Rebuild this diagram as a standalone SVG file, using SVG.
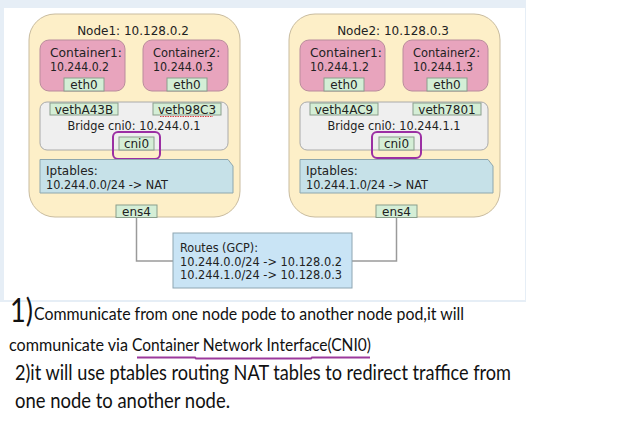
<svg xmlns="http://www.w3.org/2000/svg" width="640" height="434" viewBox="0 0 640 434">
<style>
.d{font-family:"DejaVu Sans",sans-serif;font-size:12px;fill:#222}
.node{fill:#fdefc8;stroke:#c9bc9f;stroke-width:1}
.ctr{fill:#e8a4bd;stroke:#b98c9c;stroke-width:1}
.if{fill:#d4eed6;stroke:#8a9e8c;stroke-width:1}
.br{fill:#efefef;stroke:#aaaaaa;stroke-width:1}
.ipt{fill:#c6e1e8;stroke:#8ea7ae;stroke-width:1}
.rt{fill:#c9e4f5;stroke:#8ea6b2;stroke-width:1}
.hl{fill:none;stroke:#9b2fa3;stroke-width:2}
.ln{fill:none;stroke:#9a9a9a;stroke-width:1.5}
.b{font-family:Lato,"Liberation Sans",sans-serif;fill:#111}
</style>
<rect x="0" y="0" width="640" height="434" fill="#ffffff"/>
<rect x="0" y="0" width="526" height="302" fill="#e6eef6"/>
<rect x="4" y="8" width="521" height="292" fill="#ffffff"/>

<g id="connectors">
<path class="ln" d="M84,91V103M187,91V103M136.5,150V160M136.5,193V205"/>
<path class="ln" d="M344,91V103M447,91V103M396.5,150V160M396.5,193V205"/>
<path class="ln" d="M136.5,217V261H173"/>
<path class="ln" d="M352,261H396.5V217"/>
</g>

<g id="node1">
<rect class="node" x="29" y="14" width="211" height="203" rx="26"/>
<text class="d" x="133" y="35" text-anchor="middle">Node1: 10.128.0.2</text>
<g id="node1-container1">
<rect class="ctr" x="40" y="40" width="85" height="51" rx="9"/>
<text class="d" x="50" y="57" textLength="72" lengthAdjust="spacingAndGlyphs">Container1:</text>
<text class="d" x="50" y="71" textLength="59" lengthAdjust="spacingAndGlyphs">10.244.0.2</text>
<rect class="if" x="64" y="78" width="40" height="13"/>
<text class="d" x="84" y="89" text-anchor="middle">eth0</text>
</g>
<g id="node1-container2">
<rect class="ctr" x="143" y="40" width="85" height="51" rx="9"/>
<text class="d" x="153" y="57" textLength="67" lengthAdjust="spacingAndGlyphs">Container2:</text>
<text class="d" x="153" y="71" textLength="60" lengthAdjust="spacingAndGlyphs">10.244.0.3</text>
<rect class="if" x="167" y="78" width="40" height="13"/>
<text class="d" x="187" y="89" text-anchor="middle">eth0</text>
</g>
<g id="node1-bridge">
<rect class="br" x="40" y="102" width="188" height="48" rx="7"/>
<rect class="if" x="50" y="103" width="68" height="12"/>
<text class="d" x="84" y="113.5" text-anchor="middle">vethA43B</text>
<rect class="if" x="153" y="103" width="68" height="12"/>
<text class="d" x="187" y="113.5" text-anchor="middle">veth98C3</text>
<path d="M160,116.5H213" stroke="#e04040" stroke-width="1" stroke-dasharray="1.5,1"/>
<text class="d" x="134" y="130" text-anchor="middle" textLength="133" lengthAdjust="spacingAndGlyphs">Bridge cni0: 10.244.0.1</text>
<rect class="if" x="119" y="137" width="35" height="13"/>
<text class="d" x="136.5" y="147.5" text-anchor="middle">cni0</text>
<rect class="hl" x="113" y="132" width="47" height="27" rx="5"/>
</g>
<g id="node1-iptables">
<path class="ipt" d="M40,159.5H228L233,166V193H40Z"/>
<text class="d" x="46" y="175">Iptables:</text>
<text class="d" x="46" y="188.5" textLength="122" lengthAdjust="spacingAndGlyphs">10.244.0.0/24 -&gt; NAT</text>
</g>
<g id="node1-ens4">
<rect class="if" x="116" y="205" width="41" height="12.5"/>
<text class="d" x="136.5" y="215.5" text-anchor="middle">ens4</text>
</g>
</g>

<g id="node2">
<rect class="node" x="289" y="14" width="211" height="203" rx="26"/>
<text class="d" x="393" y="35" text-anchor="middle">Node2: 10.128.0.3</text>
<g id="node2-container1">
<rect class="ctr" x="300" y="40" width="85" height="51" rx="9"/>
<text class="d" x="310" y="57" textLength="72" lengthAdjust="spacingAndGlyphs">Container1:</text>
<text class="d" x="310" y="71" textLength="59" lengthAdjust="spacingAndGlyphs">10.244.1.2</text>
<rect class="if" x="324" y="78" width="40" height="13"/>
<text class="d" x="344" y="89" text-anchor="middle">eth0</text>
</g>
<g id="node2-container2">
<rect class="ctr" x="403" y="40" width="85" height="51" rx="9"/>
<text class="d" x="413" y="57" textLength="67" lengthAdjust="spacingAndGlyphs">Container2:</text>
<text class="d" x="413" y="71" textLength="60" lengthAdjust="spacingAndGlyphs">10.244.1.3</text>
<rect class="if" x="427" y="78" width="40" height="13"/>
<text class="d" x="447" y="89" text-anchor="middle">eth0</text>
</g>
<g id="node2-bridge">
<rect class="br" x="300" y="102" width="188" height="48" rx="7"/>
<rect class="if" x="310" y="103" width="68" height="12"/>
<text class="d" x="344" y="113.5" text-anchor="middle">veth4AC9</text>
<rect class="if" x="413" y="103" width="68" height="12"/>
<text class="d" x="447" y="113.5" text-anchor="middle">veth7801</text>
<text class="d" x="394" y="130" text-anchor="middle" textLength="133" lengthAdjust="spacingAndGlyphs">Bridge cni0: 10.244.1.1</text>
<rect class="if" x="379" y="137" width="35" height="13"/>
<text class="d" x="396.5" y="147.5" text-anchor="middle">cni0</text>
<rect class="hl" x="372" y="132" width="49" height="26" rx="5"/>
</g>
<g id="node2-iptables">
<path class="ipt" d="M300,159.5H488L493,166V193H300Z"/>
<text class="d" x="306" y="175">Iptables:</text>
<text class="d" x="306" y="188.5" textLength="122" lengthAdjust="spacingAndGlyphs">10.244.1.0/24 -&gt; NAT</text>
</g>
<g id="node2-ens4">
<rect class="if" x="376" y="205" width="41" height="12.5"/>
<text class="d" x="396.5" y="215.5" text-anchor="middle">ens4</text>
</g>
</g>

<g id="routes">
<rect class="rt" x="173" y="233" width="179" height="55"/>
<text class="d" x="180" y="252" textLength="78" lengthAdjust="spacingAndGlyphs">Routes (GCP):</text>
<text class="d" x="180" y="265.5" textLength="162" lengthAdjust="spacingAndGlyphs">10.244.0.0/24 -&gt; 10.128.0.2</text>
<text class="d" x="180" y="279" textLength="162" lengthAdjust="spacingAndGlyphs">10.244.1.0/24 -&gt; 10.128.0.3</text>
</g>

<g id="notes">
<text class="b" x="10" y="322" font-size="33" textLength="23" lengthAdjust="spacingAndGlyphs">1)</text>
<text class="b" x="34" y="320" font-size="16.5" textLength="430" lengthAdjust="spacingAndGlyphs">Communicate from one node pode to another node pod,it will</text>
<text class="b" x="9" y="351" font-size="16.5" textLength="119" lengthAdjust="spacingAndGlyphs">communicate via</text>
<text class="b" x="132" y="351" font-size="16.5" textLength="239" lengthAdjust="spacingAndGlyphs">Container Network Interface(CNI0)</text>
<path d="M137,357.5H195L196,358.5H311L312,357.5H370" fill="none" stroke="#9c3a9c" stroke-width="2"/>
<text class="b" x="15" y="380" font-size="21" textLength="496" lengthAdjust="spacingAndGlyphs">2)it will use ptables routing NAT tables to redirect traffice from</text>
<text class="b" x="15" y="408" font-size="21" textLength="215" lengthAdjust="spacingAndGlyphs">one node to another node.</text>
</g>
</svg>
